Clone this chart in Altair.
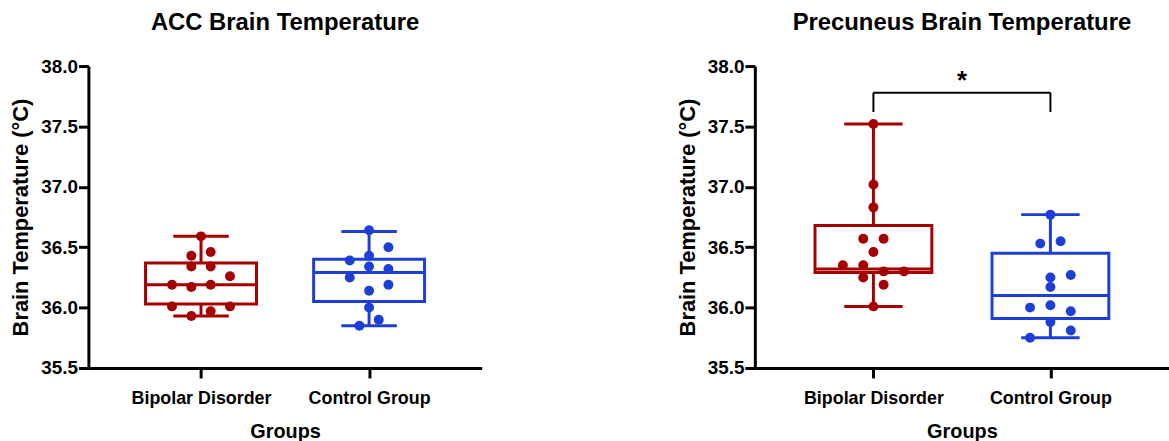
import altair as alt
import pandas as pd

groups = ["Bipolar Disorder", "Control Group"]
colors = ["#A50000", "#1E3FD6"]

# ACC panel
acc_bd = [36.59, 36.43, 36.46, 36.34, 36.34, 36.26, 36.19, 36.17, 36.19, 36.01, 36.01, 35.97, 35.93]
acc_bd_jit = [0, -0.5, 0.5, -0.5, 0.5, 1.5, -1.5, -0.5, 0.5, -1.5, 1.5, 0.5, -0.5]
acc_cg = [36.64, 36.50, 36.43, 36.39, 36.34, 36.32, 36.25, 36.19, 36.14, 36.00, 35.90, 35.85]
acc_cg_jit = [0, 1, 0, -1, 0, 1, -1, 1, 0, 0, 0.5, -0.5]
acc_stats = {  # min, q1, median, q3, max
    "Bipolar Disorder": [35.93, 36.03, 36.19, 36.37, 36.59],
    "Control Group": [35.85, 36.05, 36.29, 36.40, 36.63],
}

# Precuneus panel
pre_bd = [37.52, 37.02, 36.83, 36.57, 36.57, 36.46, 36.35, 36.35, 36.30, 36.30, 36.25, 36.19, 36.01]
pre_bd_jit = [0, 0, 0, -0.5, 0.5, 0, -1.5, -0.5, 0.5, 1.5, -0.5, 0.5, 0]
pre_cg = [36.77, 36.53, 36.55, 36.27, 36.25, 36.17, 36.02, 36.00, 35.97, 35.88, 35.81, 35.75]
pre_cg_jit = [0, -0.5, 0.5, 1, 0, 0, 0, -1, 1, 0, 1, -1]
pre_stats = {
    "Bipolar Disorder": [36.01, 36.29, 36.32, 36.68, 37.52],
    "Control Group": [35.75, 35.91, 36.10, 36.45, 36.77],
}

JIT = 0.115
BOXW = 0.33
CAPW = 0.165
FONT = "Liberation Sans"


def panel(title, bd, bd_j, cg, cg_j, stats, width, sig=None):
    pts = []
    for i, (vals, jit) in enumerate([(bd, bd_j), (cg, cg_j)]):
        for v, j in zip(vals, jit):
            pts.append({"g": groups[i], "x": i + j * JIT, "y": v})
    pts = pd.DataFrame(pts)
    st = []
    for i, g in enumerate(groups):
        mn, q1, md, q3, mx = stats[g]
        st.append({"g": g, "c": i, "mn": mn, "q1": q1, "md": md, "q3": q3, "mx": mx,
                   "bl": i - BOXW, "br": i + BOXW, "cl": i - CAPW, "cr": i + CAPW})
    st = pd.DataFrame(st)

    xs = alt.Scale(domain=[-0.67, 1.67], nice=False, zero=False)
    ys = alt.Scale(domain=[35.5, 38.0], nice=False, zero=False)
    col = alt.Color("g:N", scale=alt.Scale(domain=groups, range=colors), legend=None)
    label_expr = "datum.value == 0 ? '%s' : '%s'" % (groups[0], groups[1])
    xaxis = alt.Axis(values=[0, 1], labelExpr=label_expr, title="Groups", grid=False,
                     domainWidth=3, domainColor="black", tickWidth=3, tickColor="black",
                     tickSize=10, labelFontSize=18, labelFontWeight="bold", labelFont=FONT,
                     labelColor="black", labelPadding=12, titleFontSize=20,
                     titleFontWeight="bold", titleFont=FONT, titleColor="black", titlePadding=14)
    yaxis = alt.Axis(values=[35.5, 36.0, 36.5, 37.0, 37.5, 38.0], format=".1f",
                     title="Brain Temperature (°C)", grid=False, domainWidth=3,
                     domainColor="black", tickWidth=3, tickColor="black", tickSize=10,
                     labelFontSize=19, labelFontWeight="bold", labelFont=FONT,
                     labelColor="black", labelPadding=1, titleFontSize=22,
                     titleFontWeight="bold", titleFont=FONT, titleColor="black", titlePadding=8)

    base = alt.Chart(st)
    box = base.mark_rect(fill="white", strokeWidth=3).encode(
        x=alt.X("bl:Q", scale=xs, axis=xaxis), x2="br:Q",
        y=alt.Y("q1:Q", scale=ys, axis=yaxis), y2="q3:Q",
        stroke=alt.Stroke("g:N", scale=alt.Scale(domain=groups, range=colors), legend=None))
    med = base.mark_rule(strokeWidth=3).encode(x="bl:Q", x2="br:Q", y="md:Q", color=col)
    wlo = base.mark_rule(strokeWidth=3).encode(x="c:Q", y="mn:Q", y2="q1:Q", color=col)
    whi = base.mark_rule(strokeWidth=3).encode(x="c:Q", y="q3:Q", y2="mx:Q", color=col)
    caplo = base.mark_rule(strokeWidth=3).encode(x="cl:Q", x2="cr:Q", y="mn:Q", color=col)
    caphi = base.mark_rule(strokeWidth=3).encode(x="cl:Q", x2="cr:Q", y="mx:Q", color=col)
    dots = alt.Chart(pts).mark_circle(size=100, opacity=1).encode(x="x:Q", y="y:Q", color=col)
    layers = [box, wlo, whi, caplo, caphi, med, dots]
    if sig is not None:
        b = pd.DataFrame([{"x0": 0, "x1": 1, "top": sig[0], "bot": sig[1], "mid": 0.5,
                           "sy": sig[2], "t": sig[3]}])
        bc = alt.Chart(b)
        layers += [
            bc.mark_rule(strokeWidth=2, color="black").encode(x="x0:Q", x2="x1:Q", y="top:Q"),
            bc.mark_rule(strokeWidth=2, color="black").encode(x="x0:Q", y="bot:Q", y2="top:Q"),
            bc.mark_rule(strokeWidth=2, color="black").encode(x="x1:Q", y="bot:Q", y2="top:Q"),
            bc.mark_text(fontSize=26, fontWeight="bold", font=FONT, color="black",
                         baseline="middle").encode(x="mid:Q", y="sy:Q", text="t:N"),
        ]
    return alt.layer(*layers).properties(
        width=width, height=304,
        title=alt.TitleParams(title, fontSize=24, fontWeight="bold", font=FONT,
                              color="black", offset=22, anchor="middle"))


left = panel("ACC Brain Temperature", acc_bd, acc_bd_jit, acc_cg, acc_cg_jit, acc_stats, 396)
right = panel("Precuneus Brain Temperature", pre_bd, pre_bd_jit, pre_cg, pre_cg_jit, pre_stats,
              417, sig=(37.78, 37.62, 37.88, "*"))

chart = alt.hconcat(left, right, spacing=196).properties(
    padding={"left": 10, "top": 10, "right": 0, "bottom": 0},
    background="white",
).configure_view(strokeWidth=0, stroke="transparent")

chart.save("out.html", embed_options={"renderer": "svg", "actions": False})
